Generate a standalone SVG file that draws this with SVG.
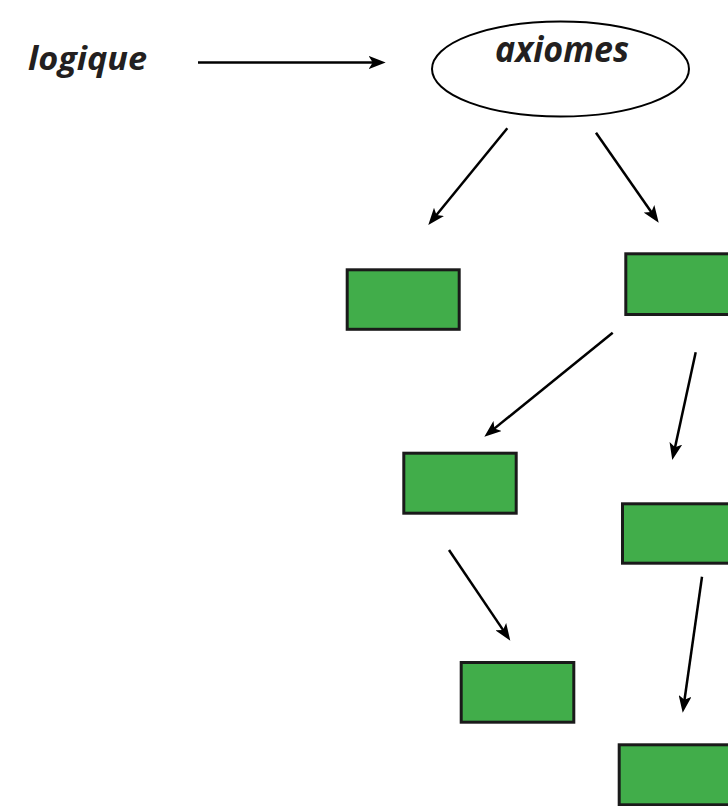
<svg xmlns="http://www.w3.org/2000/svg" width="728" height="806" viewBox="0 0 728 806">
  <style>
    .lbl { font-family: "Open Sans", "Noto Sans", "DejaVu Sans", sans-serif; font-weight: bold; font-style: italic; fill: #231f20; }
    .box { fill: #41ad4a; stroke: #1a1a1a; stroke-width: 3; }
    .conn { stroke: #000; stroke-width: 2.5; fill: none; marker-end: url(#arr); }
  </style>
  <defs>
    <marker id="arr" markerUnits="userSpaceOnUse" markerWidth="17" markerHeight="13" refX="7" refY="6.5" orient="auto">
      <path d="M0,0 L17,6.5 L0,13 L4,6.5 z" fill="#000"/>
    </marker>
  </defs>
  <rect width="728" height="806" fill="#fff"/>
  <g id="logique">
    <text class="lbl" x="28" y="70" font-size="32" textLength="119" lengthAdjust="spacingAndGlyphs">logique</text>
  </g>
  <g id="axiomes">
    <ellipse cx="560.5" cy="69" rx="128.5" ry="47.5" fill="#fff" stroke="#000" stroke-width="2"/>
    <text class="lbl" x="562" y="62" font-size="35" text-anchor="middle" textLength="134" lengthAdjust="spacingAndGlyphs">axiomes</text>
  </g>
  <g id="boxA"><rect class="box" x="347.2" y="269.8" width="112" height="59.5"/></g>
  <g id="boxB"><rect class="box" x="625.8" y="253.8" width="112" height="60.7"/></g>
  <g id="boxC"><rect class="box" x="403.8" y="453.2" width="112.4" height="60"/></g>
  <g id="boxD"><rect class="box" x="622.5" y="503.8" width="112" height="59.4"/></g>
  <g id="boxE"><rect class="box" x="461.2" y="662.5" width="112.6" height="59.7"/></g>
  <g id="boxF"><rect class="box" x="619.2" y="744.8" width="112" height="60"/></g>
  <g id="connectors">
    <line class="conn" x1="198" y1="62.5" x2="375.7" y2="62.5"/>
    <line class="conn" x1="507.3" y1="128.3" x2="434.6" y2="217.3"/>
    <line class="conn" x1="596" y1="132.7" x2="653.0" y2="214.5"/>
    <line class="conn" x1="612.7" y1="332.7" x2="492.1" y2="430.4"/>
    <line class="conn" x1="695.7" y1="352.3" x2="674.4" y2="450.2"/>
    <line class="conn" x1="449" y1="550" x2="504.7" y2="632.4"/>
    <line class="conn" x1="702" y1="576.7" x2="684.1" y2="702.8"/>
  </g>
</svg>
